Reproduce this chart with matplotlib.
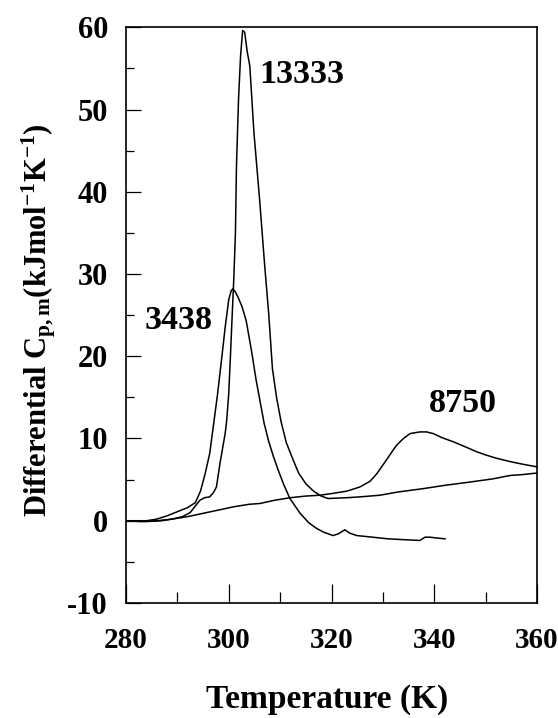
import matplotlib
matplotlib.use("Agg")
import matplotlib.pyplot as plt
from matplotlib.ticker import MultipleLocator

# fonte serifada em negrito (tipo Times)
plt.rcParams['font.family'] = ['Liberation Serif', 'DejaVu Serif']
plt.rcParams['font.weight'] = 'bold'
plt.rcParams['mathtext.fontset'] = 'custom'
plt.rcParams['mathtext.rm'] = 'Liberation Serif:bold'
plt.rcParams['mathtext.it'] = 'Liberation Serif:bold'
plt.rcParams['mathtext.bf'] = 'Liberation Serif:bold'

# curva 3438
t_3438 = [280, 284, 286, 288, 290, 292, 293.5, 294.5, 295.4, 296.3, 297.0, 297.8, 298.6,
          299.3, 300.0, 300.5, 300.8, 301.3, 301.8, 302.6, 303.4, 304.5, 305.3, 306.1,
          306.9, 307.8, 308.7, 309.6, 310.7, 311.9, 313.9, 315.5, 317.0, 318.5, 320.3,
          321.3, 322.6, 323.5, 324.9, 328.0, 331.0, 334.0, 337.2, 338.2, 339.1, 340.5, 342.1]
cp_3438 = [0, 0, 0.2, 0.6, 1.1, 1.6, 2.2, 3.6, 5.7, 8.2, 11.5, 15.3, 19.6,
           23.5, 26.9, 28.0, 28.2, 27.8, 27.2, 26.0, 24.3, 20.4, 17.2, 14.5,
           11.8, 9.6, 7.8, 6.2, 4.4, 2.7, 0.9, -0.2, -0.9, -1.4, -1.8,
           -1.6, -1.1, -1.5, -1.8, -2.0, -2.2, -2.3, -2.4, -2.0, -2.0, -2.1, -2.2]

# curva 13333
t_13333 = [280, 284, 287, 289, 291, 292.5, 293.5, 294.4, 295.3, 296.3, 297.0, 297.6, 298.3,
           299.3, 299.6, 300.0, 300.3, 300.6, 301.0, 301.3, 301.5, 301.9, 302.3, 302.7,
           303.1, 303.6, 304.1, 304.9, 306.0, 307.0, 307.8, 308.5, 309.3, 310.2, 311.2,
           312.4, 313.6, 315.0, 316.5, 318.0, 319.3, 321.0, 323.0, 325.5, 329.4, 333.0,
           337.8, 342.0, 346.9, 351.5, 354.7, 357.0, 360.0]
cp_13333 = [0, -0.1, 0, 0.2, 0.5, 1.0, 1.8, 2.5, 2.8, 2.9, 3.4, 4.1, 7.0,
            10.6, 12.2, 15.5, 19.6, 24.0, 29.7, 35.0, 43.1, 51.2, 56.5, 59.6,
            59.4, 57.0, 55.3, 47.2, 39.1, 31.0, 25.0, 18.5, 15.0, 12.0, 9.5,
            7.6, 5.8, 4.5, 3.6, 3.0, 2.7, 2.75, 2.8, 2.9, 3.1, 3.5,
            3.9, 4.3, 4.7, 5.1, 5.5, 5.6, 5.8]

# curva 8750
t_8750 = [280, 283, 286, 289, 292, 295, 298, 301, 304, 306.1, 309, 312, 315, 317.7, 320,
          323, 325.5, 327.5, 328.8, 330.7, 332.0, 332.7, 334.0, 335.3, 337.2, 338.5,
          339.8, 341.5, 343.7, 346.0, 348.2, 350.0, 352.1, 354.7, 357.0, 360.0]
cp_8750 = [0, -0.1, 0, 0.2, 0.5, 0.9, 1.3, 1.7, 2.0, 2.1, 2.5, 2.8, 3.0, 3.1, 3.3,
           3.6, 4.1, 4.8, 5.7, 7.4, 8.6, 9.2, 10.0, 10.6, 10.8, 10.8,
           10.6, 10.1, 9.6, 9.0, 8.4, 8.0, 7.6, 7.2, 6.9, 6.55]

rotulos = ['3438', '13333', '8750']
pos_rotulos = [(290.3, 24.3), (314.3, 54.2), (345.6, 14.3)]

fig = plt.figure(figsize=(5.58, 7.18), dpi=100)
ax = fig.add_axes([0.2258, 0.1602, 0.7366, 0.8018])

ax.plot(t_3438, cp_3438, color='black', lw=1.1)
ax.plot(t_13333, cp_13333, color='black', lw=1.1)
ax.plot(t_8750, cp_8750, color='black', lw=1.1)

for txt, (x, y) in zip(rotulos, pos_rotulos):
    ax.text(x, y, txt, fontsize=24.5, fontweight='bold', ha='center', va='center')

ax.set_xlim(280, 360)
ax.set_ylim(-10, 60)
ax.xaxis.set_major_locator(MultipleLocator(20))
ax.xaxis.set_minor_locator(MultipleLocator(10))
ax.yaxis.set_major_locator(MultipleLocator(10))
ax.yaxis.set_minor_locator(MultipleLocator(5))
ax.tick_params(axis='x', which='major', direction='in', length=14, width=0.9, pad=17, labelsize=21)
ax.tick_params(axis='x', which='minor', direction='in', length=8, width=0.9)
ax.tick_params(axis='y', which='major', direction='in', length=10.5, width=0.9, pad=13, labelsize=22)
ax.tick_params(axis='y', which='minor', direction='in', length=5.5, width=0.9)
ax.set_yticks(range(-10, 61, 10))
ax.set_yticklabels([str(v) for v in range(-10, 61, 10)])
for lab in ax.get_xticklabels() + ax.get_yticklabels():
    lab.set_fontweight('bold')
for s in ax.spines.values():
    s.set_linewidth(1.2)

ax.set_xlabel('Temperature (K)', fontsize=24, fontweight='bold')
ax.xaxis.set_label_coords(0.49, -0.14)
ax.set_ylabel(r'Differential C$_{\mathrm{p,m}}$(kJmol$^{\mathrm{-1}}$K$^{\mathrm{-1}}$)',
              fontsize=22, fontweight='bold')
ax.yaxis.set_label_coords(-0.165, 0.491)

fig.savefig('out.png', dpi=100)
